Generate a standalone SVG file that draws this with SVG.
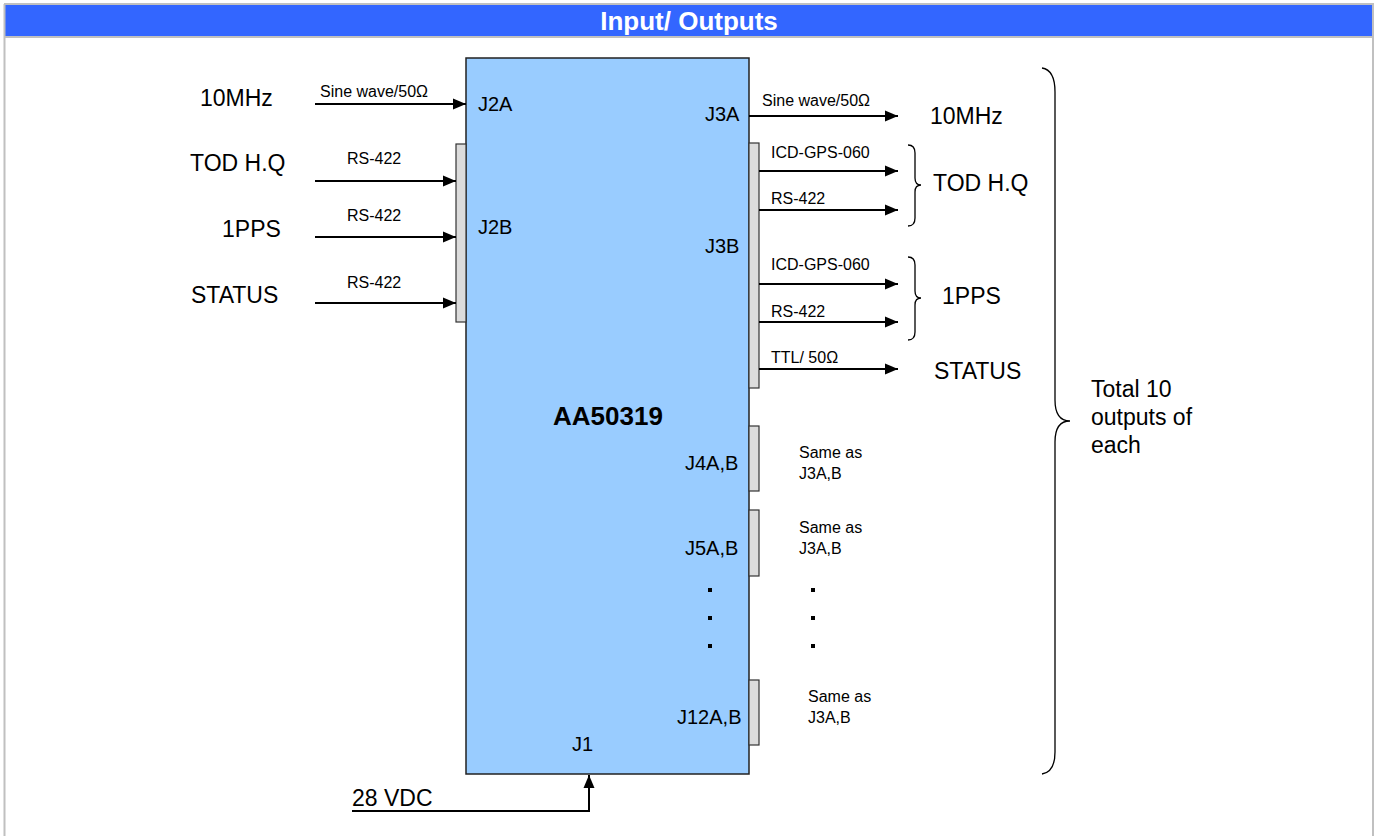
<svg xmlns="http://www.w3.org/2000/svg" width="1378" height="836" viewBox="0 0 1378 836">
<style>
text{font-family:"Liberation Sans",Arial,sans-serif;fill:#000}
.big{font-size:23px}
.sm{font-size:16px}
.jl{font-size:20px}
.wire{stroke:#000;stroke-width:2;fill:none}
.conn{fill:#dcdcdc;stroke:#333;stroke-width:1.2}
.brace{fill:none;stroke:#000;stroke-width:1.3}
</style>
<defs>
<marker id="ah" markerUnits="userSpaceOnUse" markerWidth="14" markerHeight="12" refX="13" refY="6" orient="auto">
<path d="M0,0.5 L13,6 L0,11.5 Z" fill="#000"/>
</marker>
</defs>
<rect x="0" y="0" width="1378" height="836" fill="#fff"/>
<g id="frame">
<rect x="4" y="5" width="1369" height="31" fill="#3366ff"/>
<line x1="4" y1="4" x2="1374" y2="4" stroke="#c0c0c0" stroke-width="2"/>
<line x1="4" y1="37" x2="1374" y2="37" stroke="#c0c0c0" stroke-width="2"/>
<line x1="4.5" y1="4" x2="4.5" y2="836" stroke="#c0c0c0" stroke-width="2"/>
<line x1="1373" y1="4" x2="1373" y2="836" stroke="#c0c0c0" stroke-width="2"/>
<text x="689" y="30" text-anchor="middle" style="font-size:26px;font-weight:bold;fill:#fff">Input/ Outputs</text>
</g>
<g id="main">
<rect x="466" y="58" width="283" height="716" fill="#99ccff" stroke="#222" stroke-width="1.5"/>
<text x="608" y="425" text-anchor="middle" style="font-size:26px;font-weight:bold">AA50319</text>
<text class="jl" x="478" y="111">J2A</text>
<text class="jl" x="478" y="234">J2B</text>
<text class="jl" x="705" y="121">J3A</text>
<text class="jl" x="705" y="253">J3B</text>
<text class="jl" x="685" y="470">J4A,B</text>
<text class="jl" x="685" y="555">J5A,B</text>
<text class="jl" x="677" y="724">J12A,B</text>
<text class="jl" x="572" y="751">J1</text>
<rect x="708" y="588" width="4" height="4" fill="#000"/>
<rect x="708" y="616" width="4" height="4" fill="#000"/>
<rect x="708" y="644" width="4" height="4" fill="#000"/>
</g>
<g id="J2B-conn"><rect class="conn" x="456" y="144" width="10" height="178"/></g>
<g id="J3B-conn"><rect class="conn" x="749" y="143" width="10" height="245"/></g>
<g id="J4-conn"><rect class="conn" x="749" y="426" width="10" height="65"/></g>
<g id="J5-conn"><rect class="conn" x="749" y="510" width="10" height="66"/></g>
<g id="J12-conn"><rect class="conn" x="749" y="680" width="10" height="65"/></g>
<g id="inputs">
<text class="big" x="200" y="106">10MHz</text>
<text class="big" x="190" y="171">TOD H.Q</text>
<text class="big" x="222" y="237">1PPS</text>
<text class="big" x="191" y="303">STATUS</text>
<text class="sm" x="320" y="97">Sine wave/50Ω</text>
<text class="sm" x="347" y="164">RS-422</text>
<text class="sm" x="347" y="221">RS-422</text>
<text class="sm" x="347" y="288">RS-422</text>
<text class="big" x="352" y="806">28 VDC</text>
</g>
<g id="outputs">
<text class="sm" x="762" y="106">Sine wave/50Ω</text>
<text class="sm" x="771" y="158">ICD-GPS-060</text>
<text class="sm" x="771" y="204">RS-422</text>
<text class="sm" x="771" y="270">ICD-GPS-060</text>
<text class="sm" x="771" y="317">RS-422</text>
<text class="sm" x="771" y="363">TTL/ 50Ω</text>
<text class="big" x="930" y="124">10MHz</text>
<text class="big" x="933" y="191">TOD H.Q</text>
<text class="big" x="942" y="304">1PPS</text>
<text class="big" x="934" y="379">STATUS</text>
<text class="sm" x="799" y="458">Same as</text>
<text class="sm" x="799" y="479">J3A,B</text>
<text class="sm" x="799" y="533">Same as</text>
<text class="sm" x="799" y="554">J3A,B</text>
<text class="sm" x="808" y="702">Same as</text>
<text class="sm" x="808" y="723">J3A,B</text>
<rect x="811" y="588" width="4" height="4" fill="#000"/>
<rect x="811" y="616" width="4" height="4" fill="#000"/>
<rect x="811" y="644" width="4" height="4" fill="#000"/>
<text class="big" x="1091" y="397">Total 10</text>
<text class="big" x="1091" y="425">outputs of</text>
<text class="big" x="1091" y="453">each</text>
</g>
<g id="braces">
<path class="brace" d="M908,145 Q915,145 915,153 L915,178 Q915,185 921,185 Q915,185 915,192 L915,218 Q915,226 908,226"/>
<path class="brace" d="M908,257 Q915,257 915,265 L915,291 Q915,298 921,298 Q915,298 915,305 L915,332 Q915,340 908,340"/>
<path class="brace" d="M1042,68 Q1055,70 1055,92 L1055,400 Q1055,421 1070,421 Q1055,421 1055,442 L1055,752 Q1055,772 1042,774"/>
</g>
<g id="connectors">
<line class="wire" x1="315" y1="104" x2="466" y2="104" marker-end="url(#ah)"/>
<line class="wire" x1="315" y1="181" x2="456" y2="181" marker-end="url(#ah)"/>
<line class="wire" x1="315" y1="237" x2="456" y2="237" marker-end="url(#ah)"/>
<line class="wire" x1="315" y1="303" x2="456" y2="303" marker-end="url(#ah)"/>
<line class="wire" x1="749" y1="116" x2="898" y2="116" marker-end="url(#ah)"/>
<line class="wire" x1="759" y1="171" x2="898" y2="171" marker-end="url(#ah)"/>
<line class="wire" x1="759" y1="210" x2="898" y2="210" marker-end="url(#ah)"/>
<line class="wire" x1="759" y1="284" x2="898" y2="284" marker-end="url(#ah)"/>
<line class="wire" x1="759" y1="322" x2="898" y2="322" marker-end="url(#ah)"/>
<line class="wire" x1="759" y1="369" x2="898" y2="369" marker-end="url(#ah)"/>
<polyline class="wire" points="352,811 589,811 589,775" marker-end="url(#ah)"/>
</g>
</svg>
